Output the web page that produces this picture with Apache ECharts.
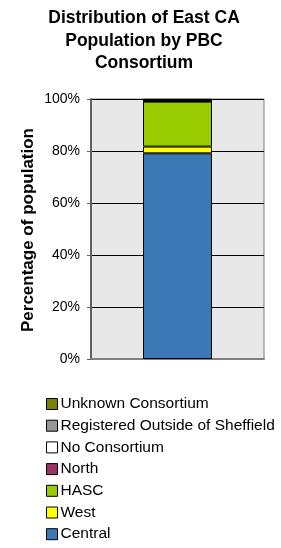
<!DOCTYPE html>
<html>
<head>
<meta charset="utf-8">
<script src="https://cdn.jsdelivr.net/npm/echarts@6/dist/echarts.min.js"></script>
<style>
  html, body { margin: 0; padding: 0; background: #fff; }
  #chart { width: 281px; height: 548px; }
</style>
</head>
<body>
<div id="chart"></div>
<script>
// one stacked column, percentages
const categories = ["East CA"];
const seriesNames = ["Central", "West", "HASC", "North", "No Consortium", "Registered Outside of Sheffield", "Unknown Consortium"];
const central = [79.1];
const west = [2.6];
const hasc = [17.3];
const north = [0.2];
const noConsortium = [0.2];
const registeredOutside = [0.3];
const unknownConsortium = [0.3];
const yTicks = [0, 20, 40, 60, 80, 100];

const seriesValues = [central, west, hasc, north, noConsortium, registeredOutside, unknownConsortium];
const colors = ["#3b78b6", "#ffff00", "#99cc00", "#993366", "#ffffff", "#969696", "#808000"];

const chart = echarts.init(document.getElementById("chart"), null, { renderer: "canvas" });

const option = {
  animation: false,
  title: {
    text: "Distribution of East CA\nPopulation by PBC\nConsortium",
    left: 139,
    textAlign: "center",
    top: 2,
    textStyle: {
      fontFamily: "Liberation Sans",
      fontWeight: "bold",
      fontSize: 17.5,
      lineHeight: 22.5,
      color: "#000"
    }
  },
  // y axis title drawn as rotated text so it sits where the reference has it
  graphic: [{
    type: "text",
    x: 28,
    y: 230,
    rotation: Math.PI / 2,
    style: {
      text: "Percentage of population",
      font: "bold 17px 'Liberation Sans'",
      fill: "#000",
      align: "center",
      verticalAlign: "middle"
    }
  }],
  legend: {
    orient: "vertical",
    left: 46,
    top: 396,
    padding: 0,
    itemWidth: 11,
    itemHeight: 11,
    itemGap: 5.7,
    icon: "rect",
    data: seriesNames.slice().reverse(),
    textStyle: {
      fontFamily: "Liberation Sans",
      fontSize: 15.5,
      color: "#000",
      padding: [0, 0, 0, -2]
    },
    itemStyle: { borderColor: "#000", borderWidth: 1 }
  },
  grid: {
    left: 91,
    right: 17,
    top: 99,
    bottom: 189,
    show: true,
    backgroundColor: "#e8e8e8",
    borderColor: "#808080",
    borderWidth: 1
  },
  xAxis: {
    type: "category",
    data: categories,
    axisLabel: { show: false },
    axisTick: { show: false },
    axisLine: { lineStyle: { color: "#808080", width: 2 } }
  },
  yAxis: {
    type: "value",
    min: yTicks[0],
    max: yTicks[yTicks.length - 1],
    interval: 20,
    axisLine: { show: true, lineStyle: { color: "#606060", width: 2 } },
    axisTick: { show: true, length: 4, lineStyle: { color: "#606060" } },
    axisLabel: {
      formatter: "{value}%",
      fontFamily: "Liberation Sans",
      fontSize: 14,
      color: "#000",
      margin: 11
    },
    splitLine: { show: true, lineStyle: { color: "#000", width: 1 } }
  },
  series: seriesNames.map((name, i) => ({
    name: name,
    type: "bar",
    stack: "total",
    barWidth: 69,
    data: seriesValues[i],
    itemStyle: { color: colors[i], borderColor: "#000", borderWidth: 1 }
  }))
};

chart.setOption(option);
</script>
</body>
</html>
